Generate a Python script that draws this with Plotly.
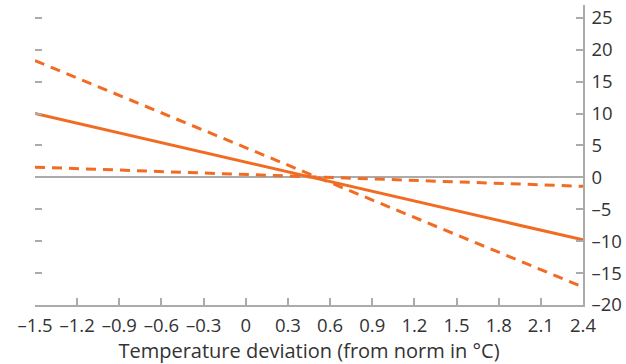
import plotly.graph_objects as go

# Data
x_ends = [-1.5, 2.4]
central = [10.0, -9.8]
upper_band = [18.3, -17.2]
lower_band = [1.6, -1.4]

x_ticks = [-1.5, -1.2, -0.9, -0.6, -0.3, 0, 0.3, 0.6, 0.9, 1.2, 1.5, 1.8, 2.1, 2.4]
x_tick_text = ["–1.5", "–1.2", "–0.9", "–0.6", "–0.3", "0", "0.3", "0.6", "0.9",
               "1.2", "1.5", "1.8", "2.1", "2.4"]
y_ticks = [25, 20, 15, 10, 5, 0, -5, -10, -15, -20]
y_tick_text = ["25", "20", "15", "10", "5", "0", "–5", "–10", "–15", "–20"]

ORANGE = "#F26B22"
GRAY = "#ABABAB"
TXT = "#333333"
FONT = "Open Sans, Noto Sans, sans-serif"

fig = go.Figure()
fig.add_trace(go.Scatter(x=x_ends, y=upper_band, mode="lines",
                         line=dict(color=ORANGE, width=3, dash="10px,7px"), yaxis="y"))
fig.add_trace(go.Scatter(x=x_ends, y=lower_band, mode="lines",
                         line=dict(color=ORANGE, width=3, dash="10px,7px"), yaxis="y"))
fig.add_trace(go.Scatter(x=x_ends, y=central, mode="lines",
                         line=dict(color=ORANGE, width=3), yaxis="y"))
# invisible trace to anchor the left tick axis
fig.add_trace(go.Scatter(x=x_ends, y=central, mode="lines", opacity=0,
                         hoverinfo="skip", yaxis="y2"))

fig.update_layout(
    width=626, height=364,
    margin=dict(l=35, r=43, t=5, b=59),
    paper_bgcolor="white", plot_bgcolor="white",
    showlegend=False,
    font=dict(family=FONT, size=18.5, color=TXT),
    xaxis=dict(
        range=[-1.5, 2.4], tickvals=x_ticks, ticktext=x_tick_text,
        showgrid=False, zeroline=False,
        showline=True, linecolor=GRAY, linewidth=1.5,
        ticks="inside", ticklen=7, tickcolor=GRAY, tickwidth=1.5,
        ticklabelstandoff=3,
        title=dict(text="Temperature deviation (from norm in °C)", standoff=3,
                   font=dict(family=FONT, size=20, color=TXT)),
        tickfont=dict(family=FONT, size=18.5, color=TXT),
    ),
    yaxis=dict(
        range=[-20, 27], tickvals=y_ticks, ticktext=y_tick_text, side="right",
        showgrid=False, zeroline=True, zerolinecolor=GRAY, zerolinewidth=1.5,
        showline=True, linecolor=GRAY, linewidth=1.5,
        ticks="inside", ticklen=7, tickcolor=GRAY, tickwidth=1.5,
        ticklabelstandoff=3,
        tickfont=dict(family=FONT, size=18.5, color=TXT),
    ),
    yaxis2=dict(
        range=[-20, 27], tickvals=y_ticks, side="left", overlaying="y",
        showgrid=False, zeroline=False, showline=False, showticklabels=False,
        ticks="inside", ticklen=7, tickcolor=GRAY, tickwidth=1.5,
    ),
)

fig.write_html("out.html")
